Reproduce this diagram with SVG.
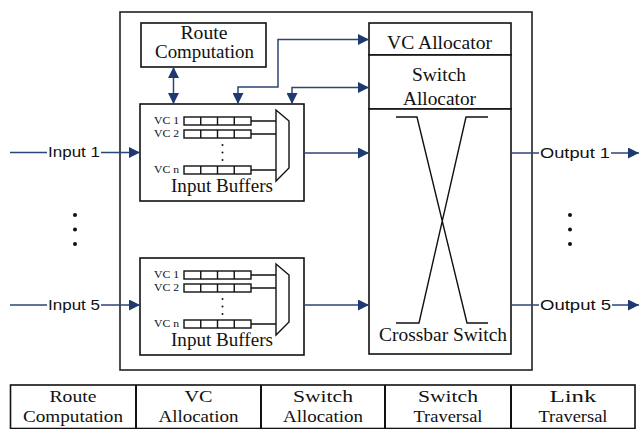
<svg xmlns="http://www.w3.org/2000/svg" width="640" height="429" viewBox="0 0 640 429">
  <defs>
    <style>
      .box { fill: #fff; stroke: #111; stroke-width: 1.6; }
      .frame { fill: none; stroke: #222; stroke-width: 1.6; }
      .thin { fill: none; stroke: #111; stroke-width: 1.4; }
      .serif { font-family: "Liberation Serif", "Times New Roman", serif; fill: #111; }
      .sans { font-family: "Liberation Sans", Arial, sans-serif; fill: #111; font-size: 14px; }
      .lbl { font-size: 18px; text-anchor: middle; }
      .tbl { font-size: 17px; text-anchor: middle; }
      .vc { font-size: 10px; }
      .conn { fill: none; stroke: #2b4576; stroke-width: 1.5; }
      .dot { fill: #111; }
    </style>
    <marker id="arrow" viewBox="0 0 10 10" refX="10" refY="5" markerWidth="11" markerHeight="11" markerUnits="userSpaceOnUse" orient="auto-start-reverse">
      <path d="M0,0 L10,5 L0,10 z" fill="#1f3a70"/>
    </marker>
    <!-- one input buffer: VC queues feeding a multiplexer -->
    <g id="buffers">
      <rect class="box" x="140" y="0" width="164" height="97"/>
      <text class="serif vc" x="154" y="20" textLength="25" lengthAdjust="spacingAndGlyphs">VC 1</text>
      <text class="serif vc" x="154" y="33" textLength="25" lengthAdjust="spacingAndGlyphs">VC 2</text>
      <text class="serif vc" x="154" y="69" textLength="25" lengthAdjust="spacingAndGlyphs">VC n</text>
      <g class="thin">
        <rect x="184" y="13" width="67" height="8"/>
        <path d="M200.75,13 V21 M217.5,13 V21 M234.25,13 V21"/>
        <rect x="184" y="26" width="67" height="8"/>
        <path d="M200.75,26 V34 M217.5,26 V34 M234.25,26 V34"/>
        <rect x="184" y="62" width="67" height="8"/>
        <path d="M200.75,62 V70 M217.5,62 V70 M234.25,62 V70"/>
        <path d="M251,17 H276 M251,30 H276 M251,66 H276"/>
        <polygon points="276,6 289,17 289,64 276,77" fill="#fff"/>
      </g>
      <circle class="dot" cx="222.5" cy="41" r="1"/>
      <circle class="dot" cx="222.5" cy="48.5" r="1"/>
      <circle class="dot" cx="222.5" cy="56" r="1"/>
      <text class="serif lbl" x="222" y="88" textLength="102" lengthAdjust="spacingAndGlyphs">Input Buffers</text>
    </g>
  </defs>

  <rect width="640" height="429" fill="#fff"/>

  <!-- router boundary -->
  <rect class="frame" x="120" y="12" width="412" height="358"/>

  <g id="route-computation">
    <rect class="box" x="141" y="23" width="125" height="44"/>
    <text class="serif lbl" x="204" y="39" textLength="47" lengthAdjust="spacingAndGlyphs">Route</text>
    <text class="serif lbl" x="204.5" y="58" textLength="99" lengthAdjust="spacingAndGlyphs">Computation</text>
  </g>

  <g id="input-buffers-1">
    <use href="#buffers" x="0" y="104"/>
  </g>

  <g id="input-buffers-5">
    <use href="#buffers" x="0" y="258"/>
  </g>

  <g id="vc-allocator">
    <rect class="box" x="369" y="23" width="142" height="32"/>
    <text class="serif lbl" x="439.5" y="49" textLength="105" lengthAdjust="spacingAndGlyphs">VC Allocator</text>
  </g>

  <g id="switch-allocator">
    <rect class="box" x="369" y="55" width="142" height="54"/>
    <text class="serif lbl" x="439" y="81" textLength="54" lengthAdjust="spacingAndGlyphs">Switch</text>
    <text class="serif lbl" x="439.5" y="105" textLength="73" lengthAdjust="spacingAndGlyphs">Allocator</text>
  </g>

  <g id="crossbar-switch">
    <rect class="box" x="369" y="109" width="142" height="245"/>
    <path class="thin" d="M396,117 H417 L467,323 H488 M488,117 H466 L419,323 H396"/>
    <text class="serif lbl" x="443" y="341" textLength="128" lengthAdjust="spacingAndGlyphs">Crossbar Switch</text>
  </g>

  <g id="ports">
    <text class="sans" x="48" y="157" textLength="52" lengthAdjust="spacingAndGlyphs">Input 1</text>
    <text class="sans" x="48" y="310" textLength="52" lengthAdjust="spacingAndGlyphs">Input 5</text>
    <text class="sans" x="540" y="158" textLength="70" lengthAdjust="spacingAndGlyphs">Output 1</text>
    <text class="sans" x="540" y="310" textLength="71" lengthAdjust="spacingAndGlyphs">Output 5</text>
    <circle class="dot" cx="75" cy="215" r="2"/>
    <circle class="dot" cx="75" cy="229.5" r="2"/>
    <circle class="dot" cx="75" cy="244" r="2"/>
    <circle class="dot" cx="570" cy="215" r="2"/>
    <circle class="dot" cx="570" cy="229.5" r="2"/>
    <circle class="dot" cx="570" cy="244" r="2"/>
  </g>

  <g id="connectors">
    <path class="conn" d="M10,152.5 H47"/>
    <path class="conn" d="M101,152.5 H140" marker-end="url(#arrow)"/>
    <path class="conn" d="M10,305 H47"/>
    <path class="conn" d="M101,305 H140" marker-end="url(#arrow)"/>
    <path class="conn" d="M304,153 H369" marker-end="url(#arrow)"/>
    <path class="conn" d="M304,305 H369" marker-end="url(#arrow)"/>
    <path class="conn" d="M511,153 H539"/>
    <path class="conn" d="M611,153 H639" marker-end="url(#arrow)"/>
    <path class="conn" d="M511,305 H539"/>
    <path class="conn" d="M612,305 H639" marker-end="url(#arrow)"/>
    <path class="conn" d="M173.5,67 V104" marker-start="url(#arrow)" marker-end="url(#arrow)"/>
    <path class="conn" d="M238,104 V87 H278 V39.5 H369" marker-start="url(#arrow)" marker-end="url(#arrow)"/>
    <path class="conn" d="M292,104 V87.5 H369" marker-start="url(#arrow)" marker-end="url(#arrow)"/>
  </g>

  <!-- pipeline stages -->
  <g id="pipeline">
    <rect class="box" x="10.5" y="385" width="624.5" height="43.5" stroke-width="2"/>
    <path d="M136,385 V428.5 M261,385 V428.5 M385,385 V428.5 M511,385 V428.5" stroke="#111" stroke-width="2"/>
    <text class="serif tbl" x="73" y="401.5" textLength="47" lengthAdjust="spacingAndGlyphs">Route</text>
    <text class="serif tbl" x="73" y="422" textLength="100" lengthAdjust="spacingAndGlyphs">Computation</text>
    <text class="serif tbl" x="198.5" y="401.5" textLength="28" lengthAdjust="spacingAndGlyphs">VC</text>
    <text class="serif tbl" x="198.5" y="422" textLength="80" lengthAdjust="spacingAndGlyphs">Allocation</text>
    <text class="serif tbl" x="323" y="401.5" textLength="60" lengthAdjust="spacingAndGlyphs">Switch</text>
    <text class="serif tbl" x="323" y="422" textLength="80" lengthAdjust="spacingAndGlyphs">Allocation</text>
    <text class="serif tbl" x="448" y="401.5" textLength="60" lengthAdjust="spacingAndGlyphs">Switch</text>
    <text class="serif tbl" x="448" y="422" textLength="69" lengthAdjust="spacingAndGlyphs">Traversal</text>
    <text class="serif tbl" x="573" y="401.5" textLength="47" lengthAdjust="spacingAndGlyphs">Link</text>
    <text class="serif tbl" x="573" y="422" textLength="69" lengthAdjust="spacingAndGlyphs">Traversal</text>
  </g>
</svg>
